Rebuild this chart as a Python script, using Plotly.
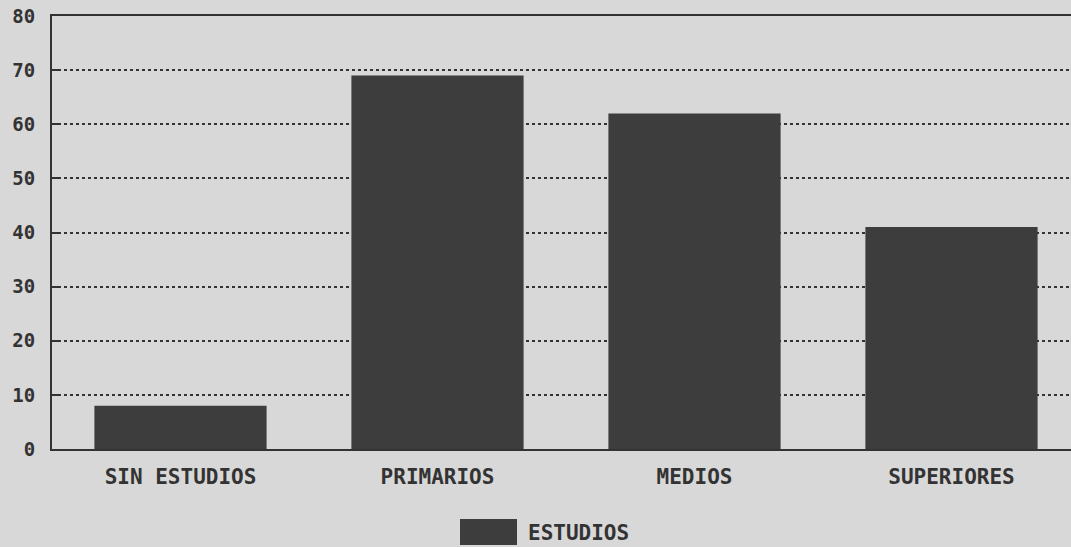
import plotly.graph_objects as go

categories = ["SIN ESTUDIOS", "PRIMARIOS", "MEDIOS", "SUPERIORES"]
values = [8, 69, 62, 41]
series_name = "ESTUDIOS"
y_ticks = [0, 10, 20, 30, 40, 50, 60, 70, 80]
y_tick_labels = ["0", "10", "20", "30", "40", "50", "60", "70", "80"]

bg = "#d8d8d8"
bar_color = "#3d3d3d"
ink = "#333333"
font_family = "DejaVu Sans Mono"

fig = go.Figure()
fig.add_trace(go.Bar(
    x=categories, y=values, name=series_name,
    marker=dict(color=bar_color, line=dict(width=0)),
    width=0.67, showlegend=False,
))

fig.update_layout(
    width=1071, height=547,
    paper_bgcolor=bg, plot_bgcolor=bg,
    margin=dict(l=52, r=0, t=16, b=98),
    font=dict(family=font_family, size=18, color=ink, weight="bold"),
)
fig.update_xaxes(
    range=[-0.5, 3.465], showgrid=False,
    showline=True, linecolor=ink, linewidth=2, mirror=True,
    ticks="", tickfont=dict(family=font_family, size=21, color=ink, weight="bold"),
    ticklabelstandoff=8,
)
fig.update_yaxes(
    range=[0, 80], tickvals=y_ticks, ticktext=y_tick_labels,
    showgrid=True, gridcolor=ink, gridwidth=1.5, griddash="dot",
    showline=True, linecolor=ink, linewidth=2,
    ticks="inside", ticklen=6, tickwidth=1.5, tickcolor=ink,
    tickfont=dict(family=font_family, size=19, color=ink, weight="bold"),
    ticklabelstandoff=11, zeroline=False,
)

# legend swatch and label
fig.add_shape(type="rect", xref="paper", yref="paper",
              x0=(460 - 52) / 1019, x1=(517 - 52) / 1019,
              y0=-(545 - 449) / 433, y1=-(519 - 449) / 433,
              fillcolor=bar_color, line=dict(width=0))
fig.add_annotation(xref="paper", yref="paper",
                   x=(526 - 52) / 1019, y=-(533 - 449) / 433,
                   text=series_name, showarrow=False, xanchor="left", yanchor="middle",
                   font=dict(family=font_family, size=21, color=ink, weight="bold"))

fig.write_html(
    "out.html",
    config={"displayModeBar": False},
    post_script="document.body.style.margin='0';document.body.style.overflow='hidden';",
)
